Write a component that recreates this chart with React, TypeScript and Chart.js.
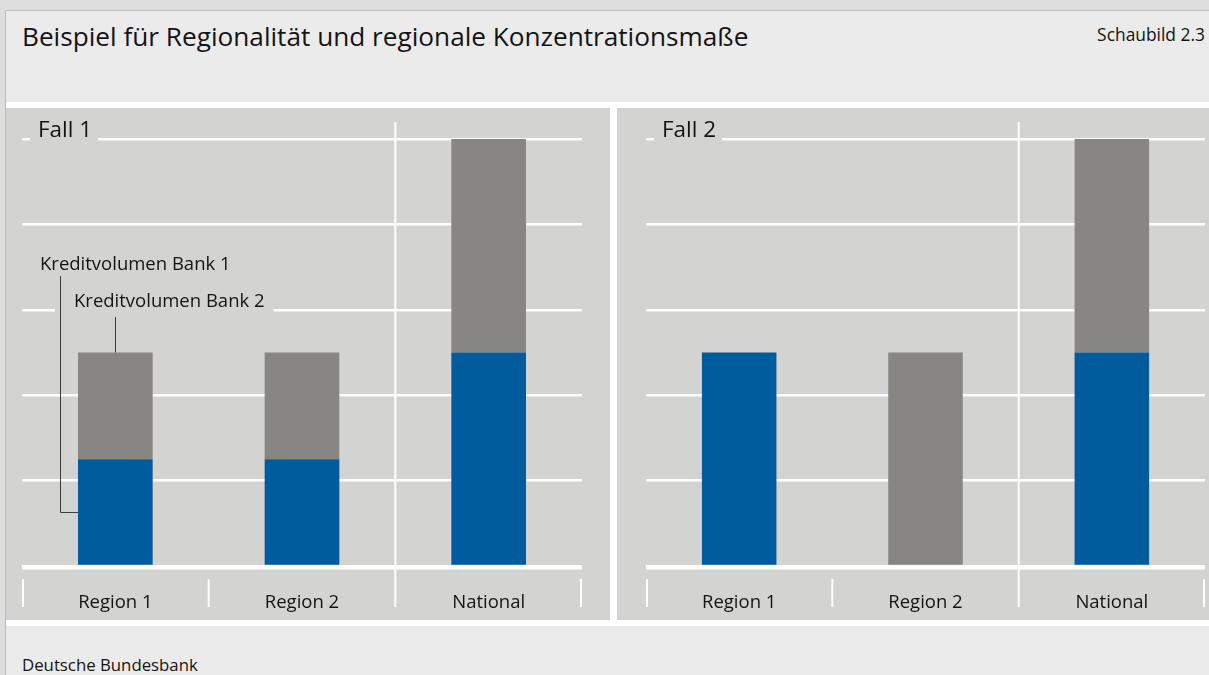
import React, { useEffect, useRef } from "react";
import { Chart, registerables } from "chart.js";

Chart.register(...registerables);

// ---- data ----
const categories = ["Region 1", "Region 2", "National"];
const seriesLabels = ["Kreditvolumen Bank 1", "Kreditvolumen Bank 2"];
const panelTitles = ["Fall 1", "Fall 2"];
const fall1Bank1 = [1.25, 1.25, 2.5];
const fall1Bank2 = [1.25, 1.25, 2.5];
const fall2Bank1 = [2.5, 0, 2.5];
const fall2Bank2 = [0, 2.5, 2.5];
const yMin = 0;
const yMax = 5;
const yStep = 1;

const chartTitle = "Beispiel für Regionalität und regionale Konzentrationsmaße";
const figureLabel = "Schaubild 2.3";
const sourceLabel = "Deutsche Bundesbank";

// ---- styles ----
const BLUE = "#005c9c";
const GRAY = "#878683";
const PANEL = "#d3d3d2";
const CARD = "#ebebeb";
const OUTER = "#dedede";
const TEXT = "#141414";
const FONT = "'Open Sans', 'Noto Sans', sans-serif";

const decoPlugin = {
  id: "panelDeco",
  afterDatasetsDraw(chart: any, _args: any, opts: any) {
    const { ctx, chartArea: a } = chart;
    const x = chart.scales.x;
    const y = chart.scales.y;
    const zeroY = y.getPixelForValue(0);
    ctx.save();
    ctx.fillStyle = "#ffffff";
    // baseline
    ctx.fillRect(a.left, zeroY - 1, a.right - a.left, 4.5);
    // category separators
    const n = categories.length;
    const bounds: number[] = [a.left + 1];
    for (let i = 1; i < n; i++) bounds.push((x.getPixelForValue(i - 1) + x.getPixelForValue(i)) / 2);
    bounds.push(a.right - 1);
    bounds.forEach((bx, i) => {
      const top = i === n - 1 ? a.top - 17 : zeroY + 13;
      ctx.fillRect(bx - 1, top, 2, zeroY + 41 - top);
    });
    // panel title on top gridline
    ctx.fillStyle = PANEL;
    ctx.fillRect(a.left + 8, a.top - 4, 68, 8);
    ctx.fillStyle = TEXT;
    ctx.font = `22.5px ${FONT}`;
    ctx.textBaseline = "alphabetic";
    ctx.textAlign = "left";
    ctx.fillText(opts.title, a.left + 16, a.top - 2);

    if (opts.annotate) {
      const m0: any = chart.getDatasetMeta(0).data[0];
      const m1: any = chart.getDatasetMeta(1).data[0];
      const barLeft = m0.x - m0.width / 2;
      const blueMid = (m0.y + m0.base) / 2;
      ctx.font = `18.5px ${FONT}`;
      // Bank 2 label (interrupts gridline)
      const t2x = barLeft - 4;
      const t2y = a.top + 168;
      const w2 = ctx.measureText(seriesLabels[1]).width;
      ctx.fillStyle = PANEL;
      ctx.fillRect(barLeft - 23, t2y - 17, t2x + w2 + 9 - (barLeft - 23), 23);
      ctx.fillStyle = TEXT;
      ctx.fillText(seriesLabels[1], t2x, t2y);
      // Bank 1 label
      const t1y = a.top + 131;
      ctx.fillText(seriesLabels[0], barLeft - 38, t1y);
      // connectors
      ctx.strokeStyle = "#3c3c3c";
      ctx.lineWidth = 1;
      const cx1 = Math.round(barLeft - 18) + 0.5;
      ctx.beginPath();
      ctx.moveTo(cx1, t1y + 6);
      ctx.lineTo(cx1, Math.round(blueMid) + 0.5);
      ctx.lineTo(barLeft, Math.round(blueMid) + 0.5);
      ctx.stroke();
      const cx2 = Math.round(m1.x) + 0.5;
      ctx.beginPath();
      ctx.moveTo(cx2, t2y + 10);
      ctx.lineTo(cx2, m1.y);
      ctx.stroke();
    }
    ctx.restore();
  },
};

function makeConfig(bank1: number[], bank2: number[], padLeft: number, padRight: number, title: string, annotate: boolean): any {
  return {
    type: "bar",
    data: {
      labels: categories,
      datasets: [
        { label: seriesLabels[0], data: bank1, backgroundColor: BLUE, borderWidth: 0, stack: "s", barPercentage: 0.4, categoryPercentage: 1 },
        { label: seriesLabels[1], data: bank2, backgroundColor: GRAY, borderWidth: 0, stack: "s", barPercentage: 0.4, categoryPercentage: 1 },
      ],
    },
    options: {
      animation: false,
      responsive: false,
      maintainAspectRatio: false,
      layout: { padding: { left: padLeft, right: padRight, top: 31, bottom: 0 } },
      plugins: {
        legend: { display: false },
        tooltip: { enabled: false },
        panelDeco: { title, annotate },
      },
      scales: {
        x: {
          stacked: true,
          grid: { display: false, drawTicks: false },
          border: { display: false },
          ticks: { color: TEXT, font: { family: FONT, size: 18.5 }, padding: 26, maxRotation: 0, autoSkip: false },
          afterFit: (s: any) => { s.height = 54; },
        },
        y: {
          stacked: true,
          min: yMin,
          max: yMax,
          ticks: { display: false, stepSize: yStep },
          grid: { color: "#ffffff", lineWidth: 2.5, drawTicks: false },
          border: { display: false },
          afterFit: (s: any) => { s.width = 0; },
        },
      },
    },
    plugins: [decoPlugin],
  };
}

function Panel(props: { left: number; width: number; bank1: number[]; bank2: number[]; padLeft: number; padRight: number; title: string; annotate: boolean }) {
  const ref = useRef<HTMLCanvasElement>(null);
  useEffect(() => {
    if (!ref.current) return;
    const c = new Chart(ref.current, makeConfig(props.bank1, props.bank2, props.padLeft, props.padRight, props.title, props.annotate));
    return () => c.destroy();
  }, []);
  return (
    <div style={{ position: "absolute", left: props.left, top: 108, width: props.width, height: 512, background: PANEL }}>
      <canvas ref={ref} width={props.width} height={512} style={{ width: props.width, height: 512, display: "block" }} />
    </div>
  );
}

export default function App() {
  return (
    <div style={{ position: "absolute", left: 0, top: 0, width: 1209, height: 675, background: OUTER, overflow: "hidden", fontFamily: FONT, color: TEXT }}>
      <div style={{ position: "absolute", left: 5, top: 10, width: 1210, height: 670, background: CARD, borderLeft: "1px solid #bdbdbd", borderTop: "1px solid #bdbdbd" }} />
      <div style={{ position: "absolute", left: 22, top: 23, fontSize: 26.2, lineHeight: "26px", whiteSpace: "nowrap" }}>{chartTitle}</div>
      <div style={{ position: "absolute", right: 4, top: 25.5, fontSize: 17.4, lineHeight: "17.5px", whiteSpace: "nowrap" }}>{figureLabel}</div>
      <div style={{ position: "absolute", left: 6, top: 102, width: 1203, height: 524, background: "#ffffff" }} />
      <Panel left={6} width={604} bank1={fall1Bank1} bank2={fall1Bank2} padLeft={16} padRight={28} title={panelTitles[0]} annotate={true} />
      <Panel left={617} width={592} bank1={fall2Bank1} bank2={fall2Bank2} padLeft={29} padRight={4} title={panelTitles[1]} annotate={false} />
      <div style={{ position: "absolute", left: 22, top: 656, fontSize: 16.8, lineHeight: "17px", whiteSpace: "nowrap" }}>{sourceLabel}</div>
    </div>
  );
}
